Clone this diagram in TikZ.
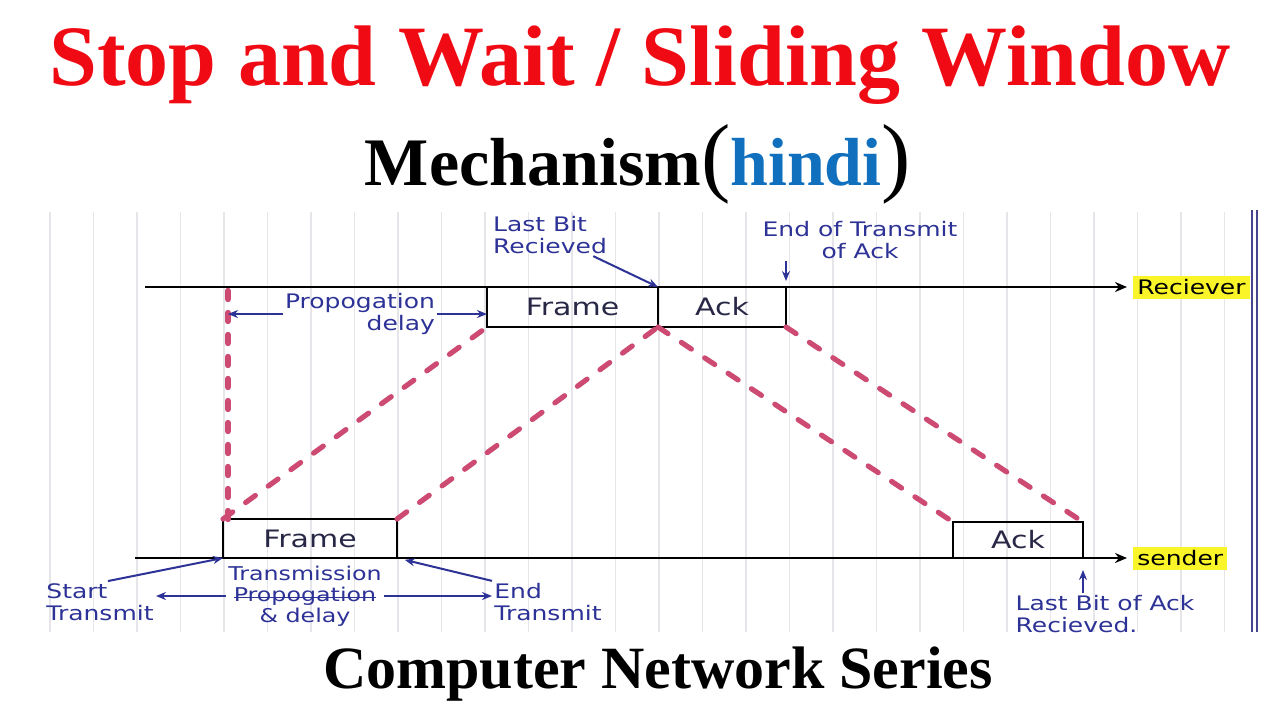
\documentclass[tikz,border=0pt]{standalone}
\usepackage{fontspec}
\setmainfont{Liberation Serif}
\newfontfamily\handfont[FakeStretch=1.25]{DejaVu Sans}
\usetikzlibrary{positioning, arrows.meta}

\definecolor{titlered}{RGB}{240,10,20}
\definecolor{hindiblue}{RGB}{16,112,190}
\definecolor{inkblue}{RGB}{45,50,150}
\definecolor{inkdark}{RGB}{40,40,70}
\definecolor{dashpink}{RGB}{205,75,115}
\definecolor{marker}{RGB}{250,245,40}
\definecolor{ruling}{RGB}{230,230,234}
\definecolor{margin}{RGB}{70,70,140}

\newcommand{\crossout}[1]{\setbox0\hbox{#1}\rlap{\rule[0.3ex]{\wd0}{0.7pt}}\box0}

\begin{document}
\begin{tikzpicture}[
  x=0.5pt, y=-0.5pt,
  title/.style = {inner sep=0pt, anchor=base},
  pkt/.style = {draw=black, line width=1.2pt, inner sep=0pt, outer sep=0pt, text=inkdark, font=\handfont\fontsize{12}{12}\selectfont},
  hand/.style = {inner sep=1pt, text=inkblue, font=\handfont\fontsize{10}{11}\selectfont},
  axis/.style = {line width=1pt, -{Stealth[length=6pt, width=5pt]}},
  sig/.style = {draw=dashpink, line width=2.6pt, line cap=round, dash pattern=on 6pt off 8pt},
  note/.style = {draw=inkblue, line width=1pt, -{Stealth[length=5pt, width=4pt]}},
  tag/.style = {fill=marker, inner xsep=2pt, inner ysep=0pt, minimum height=11.5pt, font=\handfont\fontsize{10}{10}\selectfont}
]
\fill[white] (0,0) rectangle (1280,720);
\useasboundingbox (0,0) rectangle (1280,720);

% --- notebook page
\foreach \x in {50,93.5,...,1230}
  \draw[ruling, line width=0.6pt] (\x,212) -- (\x,632);
\draw[margin, line width=0.8pt] (1252,210) -- (1252,632) (1257,210) -- (1257,632);

% --- headings
\node[title, text=titlered, font=\fontsize{43}{48}\selectfont\bfseries] (title) at (640,85) {Stop and Wait / Sliding Window};
\node[title, font=\fontsize{34}{40}\selectfont\bfseries] (sub) at (638,185) {Mechanism{\mdseries\fontsize{44}{48}\selectfont(}\textcolor{hindiblue}{hindi}{\mdseries\fontsize{44}{48}\selectfont)}};
\node[title, font=\fontsize{30}{36}\selectfont\bfseries] (series) at (658,688) {Computer Network Series};

% --- time lines
\coordinate (rstart) at (145,287);
\coordinate (rend) at (1127,287);
\coordinate (sstart) at (135,558);
\coordinate (send) at (1127,558);
\draw[axis] (rstart) -- (rend);
\draw[axis] (sstart) -- (send);
\node[tag, right=3pt of rend] (recv) {Reciever};
\node[tag, right=3pt of send] (sndr) {sender};

% --- frames
\node[pkt, minimum width=85.5pt, minimum height=20pt, anchor=north west] (rframe) at (487,287) {Frame};
\node[pkt, minimum width=64pt, minimum height=20pt, anchor=north west] (rack) at (rframe.north east) {Ack};
\node[pkt, minimum width=87pt, minimum height=19.5pt, anchor=south west] (sframe) at (223,558) {Frame};
\node[pkt, minimum width=65pt, minimum height=18pt, anchor=south west] (sack) at (953,558) {Ack};

% --- signal edges
\coordinate (vtop) at (228,291);
\draw[sig, line width=3.2pt, dash pattern=on 4pt off 7pt] (vtop) -- (vtop |- sframe.north);
\draw[sig] (sframe.north west) -- (rframe.south west);
\draw[sig] (sframe.north east) -- (rframe.south east);
\draw[sig] (rframe.south east) -- (sack.north west);
\draw[sig] (rack.south east) -- (sack.north east);

% --- notes at the receiver
\node[hand, align=left] (lastbit) at (550,235) {Last Bit\\Recieved};
\node[hand, align=center] (endack) at (860,240) {End of Transmit\\of Ack};
\node[hand, align=right] (rprop) at (360,314) {Propogation\\delay};
\draw[note] ([xshift=-8pt]lastbit.south east) -- (rframe.north east);
\draw[note, shorten >=3pt] (rack.north east |- endack.south) -- (rack.north east);
\draw[note] (rprop.west) -- (vtop |- rprop.west);
\draw[note] (rprop.east) -- (rframe.west |- rprop.east);

% --- notes at the sender
\node[hand, align=left] (start) at (100,602) {Start\\Transmit};
\node[hand, align=center, font=\handfont\fontsize{9.5}{10.5}\selectfont] (tpd) at (305,596) {Transmission\\\crossout{Propogation}\\\& delay};
\node[hand, align=left] (endtx) at (548,602) {End\\Transmit};
\node[hand, align=left] (lback) at (1105,614) {Last Bit of Ack\\Recieved.};
\draw[note] ([xshift=4pt]start.north) -- (sframe.south west);
\draw[note] (tpd.west) -- (start.east |- tpd.west);
\draw[note] (tpd.east) -- (endtx.west |- tpd.east);
\draw[note, shorten >=4pt] (endtx.north west) -- (sframe.south east);
\draw[note, shorten >=6pt] (sack.south east |- lback.north) -- (sack.south east);

\end{tikzpicture}
\end{document}
